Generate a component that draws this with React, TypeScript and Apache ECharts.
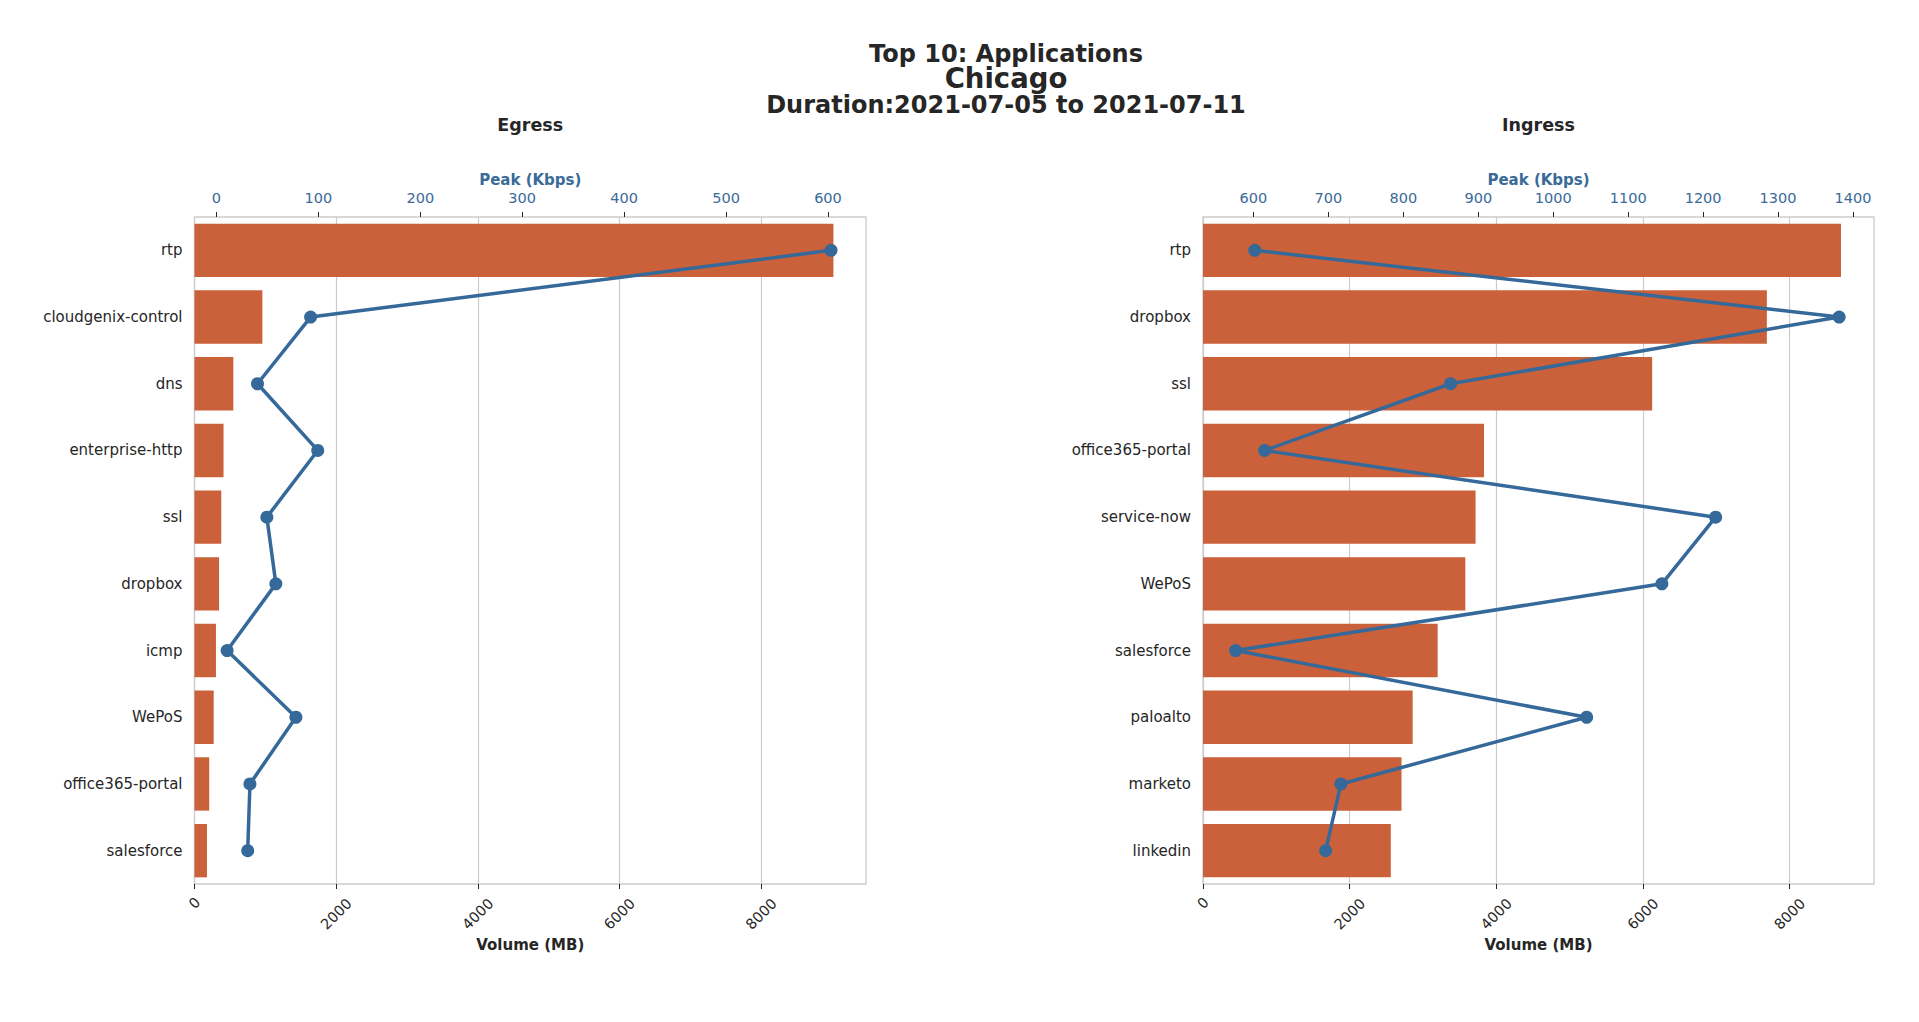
import React, { useEffect, useRef } from "react";
import * as echarts from "echarts";

const egressApps = ["rtp", "cloudgenix-control", "dns", "enterprise-http", "ssl", "dropbox", "icmp", "WePoS", "office365-portal", "salesforce"];
const egressVolume = [9020, 958, 548, 410, 378, 347, 303, 271, 208, 176];
const egressPeak = [603, 92.4, 40.3, 99.4, 49.5, 58.3, 10.5, 78, 32.9, 30.7];

const ingressApps = ["rtp", "dropbox", "ssl", "office365-portal", "service-now", "WePoS", "salesforce", "paloalto", "marketo", "linkedin"];
const ingressVolume = [8700, 7689, 6125, 3832, 3717, 3577, 3200, 2859, 2707, 2561];
const ingressPeak = [601.8, 1381.5, 863, 614.9, 1216.7, 1145, 576.2, 1044.6, 716.7, 696.4];

const volumeTicks = [0, 2000, 4000, 6000, 8000];
const egressPeakTicks = [0, 100, 200, 300, 400, 500, 600];
const ingressPeakTicks = [600, 700, 800, 900, 1000, 1100, 1200, 1300, 1400];

const titleLines = ["Top 10: Applications", "Chicago", "Duration:2021-07-05 to 2021-07-11"];
const panelTitles = ["Egress", "Ingress"];
const volumeName = "Volume (MB)";
const peakName = "Peak (Kbps)";

const FONT = "DejaVu Sans";
const TEXT = "#262626";
const BAR = "#cb613a";
const LINE = "#35699a";
const PEAK_TXT = "#3a6a98";
const GRID_LINE = "#cccccc";

export default function App() {
  const ref = useRef<HTMLDivElement>(null);

  useEffect(() => {
    if (!ref.current) return;
    const chart = echarts.init(ref.current, null, { renderer: "svg" });

    const grids = [
      { left: 194.5, top: 217, width: 671.5, height: 667 },
      { left: 1203, top: 217, width: 671, height: 667 },
    ];
    const volMax = [9480, 9150];
    const peakMin = [-21.5, 532.7];
    const peakMax = [637.3, 1428];
    const peakTicks = [egressPeakTicks, ingressPeakTicks];
    const apps = [egressApps, ingressApps];
    const vols = [egressVolume, ingressVolume];
    const peaks = [egressPeak, ingressPeak];

    const xAxes: any[] = [];
    const yAxes: any[] = [];
    const series: any[] = [];
    const graphics: any[] = [];

    [0, 1].forEach((i) => {
      xAxes.push({
        type: "value",
        gridIndex: i,
        position: "bottom",
        min: 0,
        max: volMax[i],
        interval: 2000,
        axisLine: { show: false },
        axisTick: { show: true, length: 5, lineStyle: { color: TEXT, width: 1 }, customValues: volumeTicks },
        splitLine: { show: true, lineStyle: { color: GRID_LINE, width: 1.2 } },
        axisLabel: {
          customValues: volumeTicks,
          rotate: 45,
          align: "center",
          verticalAlign: "middle",
          margin: 30,
          fontSize: 14.5,
          color: TEXT,
          fontFamily: FONT,
          formatter: (v: number) => (v === 0 ? "{z|0}" : "{n|" + String(v) + "}"),
          rich: {
            z: { padding: [0, 0, 15.6, 15.6], fontSize: 14.5, color: TEXT, fontFamily: FONT },
            n: { fontSize: 14.5, color: TEXT, fontFamily: FONT },
          },
        },
      });
      xAxes.push({
        type: "value",
        gridIndex: i,
        position: "top",
        min: peakMin[i],
        max: peakMax[i],
        axisLine: { show: false },
        axisTick: { show: true, length: 5, lineStyle: { color: TEXT, width: 1 }, customValues: peakTicks[i] },
        splitLine: { show: false },
        axisLabel: {
          customValues: peakTicks[i],
          margin: 12,
          fontSize: 14.5,
          color: PEAK_TXT,
          fontFamily: FONT,
          formatter: (v: number) => String(v),
        },
      });
      yAxes.push({
        type: "category",
        gridIndex: i,
        data: apps[i],
        inverse: true,
        axisLine: { show: false },
        axisTick: { show: false },
        splitLine: { show: false },
        axisLabel: { margin: 12, fontSize: 15, color: TEXT, fontFamily: FONT },
      });
      series.push({
        type: "bar",
        xAxisIndex: i * 2,
        yAxisIndex: i,
        data: vols[i],
        barCategoryGap: "20%",
        itemStyle: { color: BAR },
        z: 2,
      });
      series.push({
        type: "line",
        xAxisIndex: i * 2 + 1,
        yAxisIndex: i,
        data: peaks[i],
        symbol: "circle",
        symbolSize: 13,
        lineStyle: { color: LINE, width: 3.5 },
        itemStyle: { color: LINE },
        z: 4,
      });
      const cx = grids[i].left + grids[i].width / 2;
      graphics.push({
        type: "text",
        x: cx,
        y: 125,
        style: { text: panelTitles[i], align: "center", verticalAlign: "middle", font: `bold 17.5px "${FONT}"`, fill: TEXT },
      });
      graphics.push({
        type: "text",
        x: cx,
        y: 180,
        style: { text: peakName, align: "center", verticalAlign: "middle", font: `bold 15px "${FONT}"`, fill: PEAK_TXT },
      });
      graphics.push({
        type: "text",
        x: cx,
        y: 945,
        style: { text: volumeName, align: "center", verticalAlign: "middle", font: `bold 15px "${FONT}"`, fill: TEXT },
      });
    });

    const titleY = [53.5, 77.5, 104.5];
    const titleSize = [24, 27.5, 24];
    const titleLH = [22, 24, 22];
    titleLines.forEach((t, k) => {
      graphics.push({
        type: "text",
        x: 1006,
        y: titleY[k],
        style: {
          text: t,
          align: "center",
          verticalAlign: "middle",
          font: `bold ${titleSize[k]}px "${FONT}"`,
          lineHeight: titleLH[k],
          fill: TEXT,
        },
      });
    });

    chart.setOption({
      animation: false,
      backgroundColor: "#ffffff",
      textStyle: { fontFamily: FONT },
      grid: grids.map((g) => ({ ...g, show: true, borderColor: GRID_LINE, borderWidth: 1.3, backgroundColor: "transparent" })),
      xAxis: xAxes,
      yAxis: yAxes,
      series,
      graphic: graphics,
    });

    return () => chart.dispose();
  }, []);

  return (
    <div
      ref={ref}
      style={{ position: "fixed", left: 0, top: 0, width: "1919px", height: "1022px", background: "#fff" }}
    />
  );
}
